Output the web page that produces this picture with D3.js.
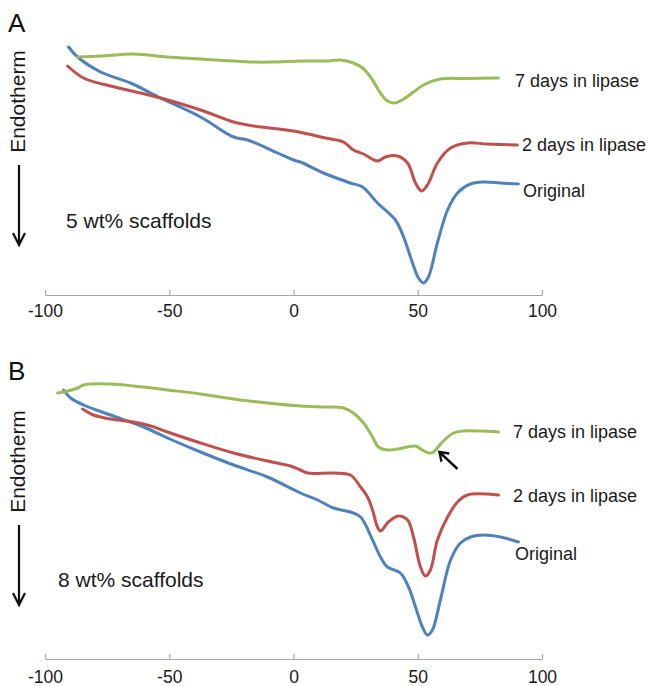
<!DOCTYPE html>
<html><head><meta charset="utf-8">
<script src="https://cdn.jsdelivr.net/npm/d3@7"></script>
<style>
html,body{margin:0;padding:0;background:#fff;}
svg{display:block;font-family:"Liberation Sans",Arial,sans-serif;}
</style></head>
<body>
<svg id="chart" width="649" height="686"></svg>
<script>
// Temperature (°C) ticks
const xTicks = [-100, -50, 0, 50, 100];
const seriesNames = ["Original", "2 days in lipase", "7 days in lipase"];
const seriesColors = ["#4F81BD", "#C0504D", "#9BBB59"];
const panelLetters = ["A", "B"];
const panelNotes = ["5 wt% scaffolds", "8 wt% scaffolds"];

// Heat flow (arbitrary units), [temperature, value]
const aOriginal = [[-90.5,248],[-86.9,238],[-77.6,223],[-65.6,212],[-53.5,197],[-37.4,178],[-24.1,158],[-18.5,155],[-6.4,142],[0,135],[2.8,133],[12.1,122],[22.9,112],[27.8,108],[33.8,92],[41.0,75],[44.3,58],[47.9,32],[50.3,17],[52.3,12],[54.3,18],[57.9,52],[62.0,85],[66.0,102],[71.2,111],[76.4,113],[83.3,112],[90.5,111]];
const a2days = [[-90.9,229],[-84.5,217],[-73.6,209],[-61.6,202],[-53.5,197],[-37.4,185],[-24.1,173],[-16.1,169],[0,164],[12.9,157],[20.1,153],[24.1,145],[28.2,141],[33.8,134],[37.0,138],[41.8,139],[45.9,132],[49.1,112],[51.5,104],[53.9,110],[57.9,132],[63.2,147],[70.0,152],[78.0,151],[90.1,150]];
const a7days = [[-86.9,238],[-77.6,239],[-64.4,241],[-50.7,238],[-37.4,236],[-17.3,233],[-8.0,233],[2.8,234],[12.9,234],[18.9,235],[24.1,232],[27.8,227],[31.0,218],[35.0,202],[37.8,194],[41.0,192],[44.3,196],[48.3,203],[52.3,210],[59.1,216],[70.0,216.5],[82.5,217]];

const bOriginal = [[-92.5,269],[-89.7,261],[-84.5,254],[-73.6,244],[-60.3,232],[-50.7,221],[-37.4,207],[-24.1,194],[-10.5,182],[2.8,166],[9.7,159],[16.1,151],[22.9,147],[27.0,142],[31.8,119],[35.0,102],[37.8,92],[43.0,86],[46.3,72],[49.1,52],[51.9,32],[53.9,24],[55.9,29],[59.1,59],[63.2,99],[67.2,116],[71.2,122],[76.4,124],[83.3,122],[90.5,117]];
const b2days = [[-84.9,250],[-80.5,244],[-73.6,240],[-64.4,237],[-57.5,233],[-50.7,227],[-37.4,216],[-24.1,206],[-10.5,198],[-1.2,193],[2.8,189],[5.6,186],[16.1,186],[22.9,184],[27.0,172],[29.8,162],[31.8,149],[33.8,132],[35.0,128],[38.2,137],[42.2,143],[45.9,139],[48.3,122],[51.1,92],[53.1,83],[55.1,89],[57.9,119],[62.0,142],[66.0,157],[70.0,164],[82.5,164]];
const b7days = [[-94.9,266],[-92.5,267],[-86.9,271],[-84.5,274],[-73.6,275],[-64.4,273],[-50.7,269],[-37.4,265],[-24.1,260],[-10.5,256],[2.8,253],[12.9,252],[20.1,251],[24.1,246],[28.2,236],[31.8,222],[34.2,212],[37.8,209],[41.8,210],[45.9,212],[49.1,213],[51.9,209],[54.3,206],[56.3,207],[59.9,217],[64.4,226],[68.4,228],[75.2,228],[82.5,227]];

const panels = [
  {series:[aOriginal, a2days, a7days], axisY:295, letterY:32, noteX:66, noteY:228, endoY:101.5, arrowTop:165, arrowBot:245,
   labels:[[523,197],[522,151],[515,87]], pad:10},
  {series:[bOriginal, b2days, b7days], axisY:659, letterY:380, noteX:58, noteY:587, endoY:461.5, arrowTop:525, arrowBot:605,
   labels:[[515,560],[513,502],[513,438]], pad:12, pointer:{tip:[58.7,207], tail:[66,190]}}
];

const svg = d3.select("#chart");
const x = d3.scaleLinear().domain([-100, 100]).range([45, 542]);

panels.forEach((p, pi) => {
  const y = d3.scaleLinear().domain([0, 300]).range([p.axisY, p.axisY - 300]);
  const g = svg.append("g");

  // axis
  const ax = g.append("g").attr("transform", `translate(0,${p.axisY})`)
    .call(d3.axisBottom(x).tickValues(xTicks).tickSize(-5).tickSizeOuter(0).tickPadding(p.pad).tickFormat(d3.format("d")));
  ax.select(".domain").attr("stroke", "#A6A6A6").attr("stroke-width", 1.2);
  ax.selectAll(".tick line").attr("stroke", "#A6A6A6").attr("stroke-width", 1.2);
  ax.selectAll(".tick text").attr("fill", "#1a1a1a").attr("font-size", 17.5)
    .attr("font-family", '"Liberation Sans",Arial,sans-serif')
    .text(d => d < 0 ? "-" + Math.abs(d) : d);

  // curves
  const line = d3.line().x(d => x(d[0])).y(d => y(d[1])).curve(d3.curveCatmullRom.alpha(0.5));
  p.series.forEach((s, si) => {
    g.append("path").datum(s).attr("d", line)
      .attr("fill", "none").attr("stroke", seriesColors[si]).attr("stroke-width", 3)
      .attr("stroke-linejoin", "round").attr("stroke-linecap", "round");
  });
  // series labels
  p.labels.forEach((l, si) => {
    g.append("text").attr("x", l[0]).attr("y", l[1]).attr("font-size", 18).attr("fill", "#1a1a1a")
      .text(seriesNames[si]);
  });

  // panel letter
  g.append("text").attr("x", 8).attr("y", p.letterY).attr("font-size", 26).attr("fill", "#111").text(panelLetters[pi]);
  // note
  g.append("text").attr("x", p.noteX).attr("y", p.noteY).attr("font-size", 21).attr("fill", "#1a1a1a").text(panelNotes[pi]);
  // Endotherm
  g.append("text").attr("transform", `translate(25,${p.endoY}) rotate(-90)`).attr("text-anchor", "middle")
    .attr("font-size", 21).attr("fill", "#1a1a1a").text("Endotherm");
  // down arrow
  g.append("path").attr("d", `M19,${p.arrowTop}V${p.arrowBot}M13,${p.arrowBot-12}L19,${p.arrowBot}L25,${p.arrowBot-12}`)
    .attr("fill", "none").attr("stroke", "#111").attr("stroke-width", 2.2);

  // pointer arrow
  if (p.pointer) {
    const tx = x(p.pointer.tip[0]), ty = y(p.pointer.tip[1]);
    const sx = x(p.pointer.tail[0]), sy = y(p.pointer.tail[1]);
    const ang = Math.atan2(ty - sy, tx - sx);
    const h = 10, w = 0.6;
    const p1 = [tx - h*Math.cos(ang - w), ty - h*Math.sin(ang - w)];
    const p2 = [tx - h*Math.cos(ang + w), ty - h*Math.sin(ang + w)];
    g.append("path").attr("d", `M${sx},${sy}L${tx},${ty}M${p1[0]},${p1[1]}L${tx},${ty}L${p2[0]},${p2[1]}`)
      .attr("fill", "none").attr("stroke", "#111").attr("stroke-width", 2.4);
  }
});
</script>
</body></html>
